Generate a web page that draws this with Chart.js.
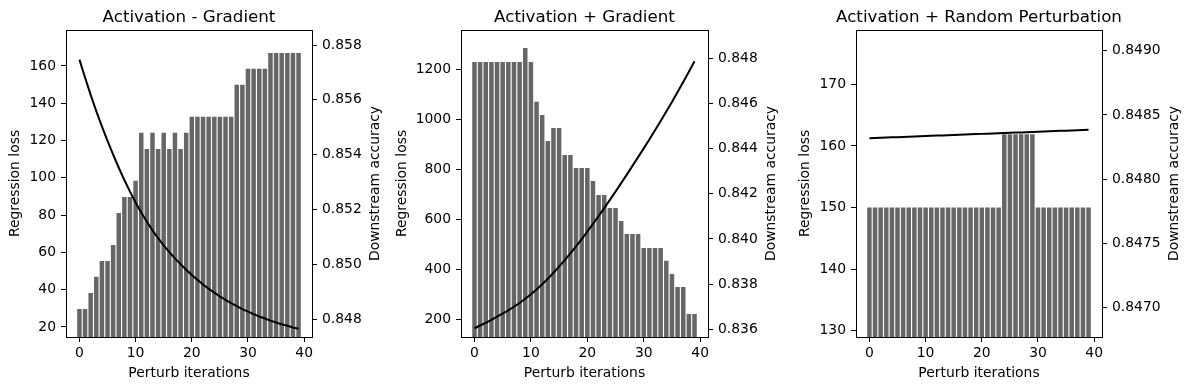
<!DOCTYPE html>
<html>
<head>
<meta charset="utf-8">
<script src="https://cdn.jsdelivr.net/npm/chart.js@4.4.0/dist/chart.umd.min.js"></script>
<style>
html, body { margin: 0; padding: 0; background: #fff; }
#wrap { position: relative; width: 1190px; height: 390px; }
.panel { position: absolute; top: 0; height: 390px; }
</style>
</head>
<body>
<div id="wrap">
  <div class="panel" style="left:0px;width:395px"><canvas id="c1" width="395" height="390"></canvas></div>
  <div class="panel" style="left:395px;width:395px"><canvas id="c2" width="395" height="390"></canvas></div>
  <div class="panel" style="left:790px;width:400px"><canvas id="c3" width="400" height="390"></canvas></div>
</div>
<script>
// perturb iterations (x)
var iterations = [0,1,2,3,4,5,6,7,8,9,10,11,12,13,14,15,16,17,18,19,
                  20,21,22,23,24,25,26,27,28,29,30,31,32,33,34,35,36,37,38,39];
var xTicks = [0, 10, 20, 30, 40];

// Activation - Gradient
var minusGradLoss = [163.4,153.8,144.5,135.8,127.6,119.8,112.4,105.4,98.8,92.6,
                     86.8,81.4,76.4,71.8,67.6,63.7,60.1,56.8,53.7,50.7,
                     47.9,45.3,42.8,40.5,38.4,36.4,34.5,32.8,31.2,29.6,
                     28.2,26.9,25.6,24.5,23.4,22.4,21.4,20.6,19.7,19.0];
var minusGradAcc = [0.84838,0.84838,0.84896,0.84955,0.85013,0.85013,0.85071,0.85188,0.85246,0.85246,
                    0.85305,0.85480,0.85421,0.85480,0.85421,0.85480,0.85421,0.85480,0.85421,0.85480,
                    0.85538,0.85538,0.85538,0.85538,0.85538,0.85538,0.85538,0.85538,0.85655,0.85655,
                    0.85713,0.85713,0.85713,0.85713,0.85771,0.85771,0.85771,0.85771,0.85771,0.85771];
var minusGradLossTicks = [20, 40, 60, 80, 100, 120, 140, 160];
var minusGradAccTicks = [0.848, 0.850, 0.852, 0.854, 0.856, 0.858];

// Activation + Gradient
var plusGradLoss = [164,175,186,198,211,223,236,250,265,282,
                    300,319,340,362,386,411,437,464,492,521,
                    551,582,613,645,678,711,745,779,814,849,
                    884,920,957,994,1032,1070,1110,1150,1191,1233];
var plusGradAcc = [0.84784,0.84784,0.84784,0.84784,0.84784,0.84784,0.84784,0.84784,0.84784,0.84846,
                   0.84784,0.84608,0.84549,0.84434,0.84491,0.84491,0.84372,0.84372,0.84314,0.84314,
                   0.84314,0.84257,0.84195,0.84195,0.84137,0.84137,0.84079,0.84022,0.84022,0.84022,
                   0.83960,0.83960,0.83960,0.83960,0.83904,0.83845,0.83787,0.83787,0.83668,0.83668];
var plusGradLossTicks = [200, 400, 600, 800, 1000, 1200];
var plusGradAccTicks = [0.836, 0.838, 0.840, 0.842, 0.844, 0.846, 0.848];

// Activation + Random Perturbation
var randomLoss = [161.25,161.28,161.32,161.35,161.39,161.42,161.46,161.49,161.53,161.56,
                  161.60,161.63,161.67,161.70,161.74,161.77,161.81,161.84,161.88,161.91,
                  161.95,161.98,162.02,162.05,162.09,162.12,162.16,162.19,162.23,162.26,
                  162.30,162.33,162.37,162.40,162.44,162.47,162.51,162.54,162.58,162.61];
var randomAcc = [0.84778,0.84778,0.84778,0.84778,0.84778,0.84778,0.84778,0.84778,0.84778,0.84778,
                 0.84778,0.84778,0.84778,0.84778,0.84778,0.84778,0.84778,0.84778,0.84778,0.84778,
                 0.84778,0.84778,0.84778,0.84778,0.84835,0.84835,0.84835,0.84835,0.84835,0.84835,
                 0.84778,0.84778,0.84778,0.84778,0.84778,0.84778,0.84778,0.84778,0.84778,0.84778];
var randomLossTicks = [130, 140, 150, 160, 170];
var randomAccTicks = [0.8470, 0.8475, 0.8480, 0.8485, 0.8490];

var FONT = '"DejaVu Sans", sans-serif';

// frame, title and axis titles, drawn like matplotlib does
var panelText = {
	id: 'panelText',
	afterDraw: function(chart, args, opts) {
		var ctx = chart.ctx;
		var a = chart.chartArea;
		ctx.save();
		ctx.strokeStyle = '#000';
		ctx.lineWidth = 1;
		ctx.strokeRect(Math.round(a.left) + 0.5, Math.round(a.top) + 0.5,
			Math.round(a.right - a.left), Math.round(a.bottom - a.top));

		ctx.fillStyle = '#000';
		ctx.textAlign = 'center';
		ctx.textBaseline = 'alphabetic';
		ctx.font = '16.7px ' + FONT;
		ctx.fillText(opts.title, (a.left + a.right) / 2, 22);

		ctx.font = '13.9px ' + FONT;
		ctx.fillText('Perturb iterations', (a.left + a.right) / 2, 377);

		var lw = 0, rw = 0;
		for (const t of opts.leftLabels) lw = Math.max(lw, ctx.measureText(t).width);
		for (const t of opts.rightLabels) rw = Math.max(rw, ctx.measureText(t).width);
		var midY = (a.top + a.bottom) / 2;

		ctx.textBaseline = 'middle';
		ctx.save();
		ctx.translate(a.left - 5 - 5 - lw - 5.6 - 8, midY);
		ctx.rotate(-Math.PI / 2);
		ctx.fillText('Regression loss', 0, 0);
		ctx.restore();

		ctx.save();
		ctx.translate(a.right + 5 + 5 + rw + 5.6 + 8, midY);
		ctx.rotate(-Math.PI / 2);
		ctx.fillText('Downstream accuracy', 0, 0);
		ctx.restore();
		ctx.restore();
	}
};

function axisStyle() {
	return {
		grid: { display: true, drawOnChartArea: false, drawTicks: true, tickLength: 5,
			tickColor: '#000', tickWidth: 1, offset: false },
		border: { display: false },
		ticks: { color: '#000', font: { family: FONT, size: 13.9 }, padding: 5,
			autoSkip: false, maxRotation: 0 }
	};
}

function makePanel(id, title, loss, acc, lossMin, lossMax, lossTicks, accMin, accMax, accTicks, accDec, rightW) {
	var lineData = [];
	var barData = [];
	for (var i = 0; i < iterations.length; i++) {
		lineData.push({ x: iterations[i], y: loss[i] });
		barData.push({ x: iterations[i], y: acc[i] });
	}

	var xs = axisStyle();
	xs.type = 'linear';
	xs.position = 'bottom';
	xs.min = -2.39;
	xs.max = 41.39;
	xs.offset = false;
	xs.ticks.padding = 3;
	xs.afterBuildTicks = function(s) { s.ticks = xTicks.map(v => ({ value: v })); };
	xs.afterFit = function(s) { s.height = 53; };

	var ys = axisStyle();
	ys.type = 'linear';
	ys.position = 'left';
	ys.min = lossMin;
	ys.max = lossMax;
	ys.afterBuildTicks = function(s) { s.ticks = lossTicks.map(v => ({ value: v })); };
	ys.ticks.callback = function(v) { return String(v); };
	ys.afterFit = function(s) { s.width = 66; };

	var y1s = axisStyle();
	y1s.type = 'linear';
	y1s.position = 'right';
	y1s.min = accMin;
	y1s.max = accMax;
	y1s.afterBuildTicks = function(s) { s.ticks = accTicks.map(v => ({ value: v })); };
	y1s.ticks.callback = function(v) { return v.toFixed(accDec); };
	y1s.afterFit = function(s) { s.width = rightW; };

	new Chart(document.getElementById(id), {
		type: 'bar',
		data: {
			datasets: [
				{
					type: 'line',
					data: lineData,
					yAxisID: 'y',
					borderColor: '#000',
					borderWidth: 2,
					pointRadius: 0,
					tension: 0,
					fill: false,
					order: 0,
					clip: 0
				},
				{
					type: 'bar',
					data: barData,
					yAxisID: 'y1',
					backgroundColor: '#666666',
					borderWidth: 0,
					barPercentage: 0.8,
					categoryPercentage: 1.0,
					order: 1,
					clip: 0
				}
			]
		},
		options: {
			responsive: false,
			animation: false,
			devicePixelRatio: 1,
			layout: { padding: { top: 30, left: 0, right: 0, bottom: 0 } },
			plugins: {
				legend: { display: false },
				tooltip: { enabled: false },
				panelText: {
					title: title,
					leftLabels: lossTicks.map(v => String(v)),
					rightLabels: accTicks.map(v => v.toFixed(accDec))
				}
			},
			scales: { x: xs, y: ys, y1: y1s }
		},
		plugins: [panelText]
	});
}

makePanel('c1', 'Activation - Gradient', minusGradLoss, minusGradAcc,
	14.6, 179.3, minusGradLossTicks, 0.847355, 0.858547, minusGradAccTicks, 3, 83);
makePanel('c2', 'Activation + Gradient', plusGradLoss, plusGradAcc,
	129, 1358, plusGradLossTicks, 0.835659, 0.849253, plusGradAccTicks, 3, 82);
makePanel('c3', 'Activation + Random Perturbation', randomLoss, randomAcc,
	129.0, 178.8, randomLossTicks, 0.846772, 0.849161, randomAccTicks, 4, 88);
</script>
</body>
</html>
